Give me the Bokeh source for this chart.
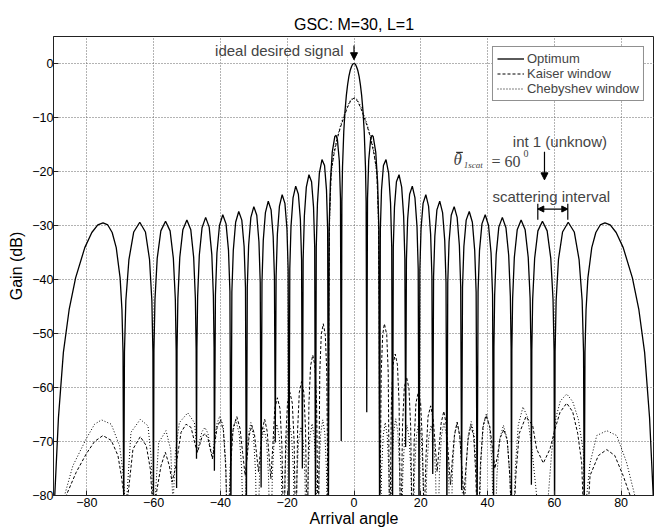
from bokeh.plotting import figure
from bokeh.models import (Range1d, Label, Arrow, NormalHead, Legend, LegendItem,
                          ColumnDataSource, FixedTicker)
from bokeh.embed import file_html
from bokeh.resources import INLINE

# ---------------- data ----------------
X_TICKS = [-80, -60, -40, -20, 0, 20, 40, 60, 80]
Y_TICKS = [0, -10, -20, -30, -40, -50, -60, -70, -80]

OPT_ANGLE = [
    -90.0, -88.52, -87.04, -85.32, -83.38, -80.63, -78.52, -76.73, -75.16, -73.74, -72.43, -71.21, -70.05, -69.50, -69.18, -68.96,
    -68.75, -68.33, -67.41, -65.97, -64.16, -62.46, -61.24, -60.54, -60.23, -60.07,
    -59.92, -59.61, -58.94, -57.85, -56.44, -55.08, -54.10, -53.51, -53.26, -53.13,
    -53.00, -52.75, -52.18, -51.26, -50.05, -48.88, -48.02, -47.51, -47.28, -47.17,
    -47.05, -46.83, -46.33, -45.51, -44.43, -43.37, -42.58, -42.12, -41.91, -41.81,
    -41.50, -41.05, -40.29, -39.30, -38.32, -37.59, -37.16, -36.87,
    -36.58, -36.15, -35.45, -34.52, -33.60, -32.91, -32.50, -32.23,
    -31.96, -31.56, -30.89, -30.00, -29.12, -28.47, -28.08, -27.82,
    -27.56, -27.17, -26.53, -25.68, -24.83, -24.21, -23.83, -23.58,
    -23.33, -22.95, -22.33, -21.51, -20.69, -20.08, -19.72, -19.47,
    -19.23, -18.87, -18.26, -17.46, -16.66, -16.06, -15.70, -15.47,
    -15.23, -14.87, -14.28, -13.49, -12.71, -12.12, -11.77, -11.54,
    -11.30, -10.95, -10.37, -9.59, -8.82, -8.24, -7.89, -7.66,
    -7.43, -7.08, -6.51, -5.74, -5.36, -4.97, -4.40, -4.05, -3.82,
    -3.63, -3.44, -3.06, -2.68, -2.29, -1.91, -1.53, -1.15, -0.76, -0.38, 0.0,
    0.38, 0.76, 1.15, 1.53, 1.91, 2.29, 2.68, 3.06, 3.44, 3.63, 3.82,
    4.05, 4.40, 4.97, 5.36, 5.74, 6.51, 7.08, 7.43, 7.66,
    7.89, 8.24, 8.82, 9.59, 10.37, 10.95, 11.30, 11.54,
    11.77, 12.12, 12.71, 13.49, 14.28, 14.87, 15.23, 15.47,
    15.70, 16.06, 16.66, 17.46, 18.26, 18.87, 19.23, 19.47,
    19.72, 20.08, 20.69, 21.51, 22.33, 22.95, 23.33, 23.58,
    23.83, 24.21, 24.83, 25.68, 26.53, 27.17, 27.56, 27.82,
    28.08, 28.47, 29.12, 30.00, 30.89, 31.56, 31.96, 32.23,
    32.50, 32.91, 33.60, 34.52, 35.45, 36.15, 36.58, 36.87,
    37.16, 37.59, 38.32, 39.30, 40.29, 41.05, 41.50, 41.81,
    41.91, 42.12, 42.58, 43.37, 44.43, 45.51, 46.33, 46.83, 47.05, 47.17,
    47.28, 47.51, 48.02, 48.88, 50.05, 51.26, 52.18, 52.75, 53.00, 53.13,
    53.26, 53.51, 54.10, 55.08, 56.44, 57.85, 58.94, 59.61, 59.92, 60.07,
    60.23, 60.54, 61.24, 62.46, 64.16, 65.97, 67.41, 68.33, 68.75, 68.96,
    69.18, 69.50, 70.05, 71.21, 72.43, 73.74, 75.16, 76.73, 78.52, 80.63, 83.38, 85.32, 87.04, 88.52, 90.0,
]
OPT_GAIN = [
    -85, -65.6, -53.5, -45.6, -39.7, -34.1, -31.3, -29.9, -29.5, -29.9, -31.3, -34.1, -39.7, -45.6, -53.5, -85,
    -53.4, -43.9, -36.3, -31.2, -29.4, -31.2, -36.3, -43.9, -53.4, -85,
    -53.2, -43.7, -36.1, -31.0, -29.2, -31.0, -36.1, -43.7, -53.2, -78.6,
    -53.0, -43.5, -35.9, -30.8, -29.0, -30.8, -35.9, -43.5, -53.0, -73.2,
    -52.6, -43.1, -35.5, -30.4, -28.5, -30.3, -35.4, -43.0, -52.5, -75.4,
    -42.8, -35.1, -30.0, -28.0, -29.7, -34.6, -42.2, -85,
    -42.3, -34.6, -29.4, -27.4, -29.0, -33.9, -41.5, -85,
    -41.4, -33.7, -28.5, -26.5, -28.1, -33.0, -40.6, -78.5,
    -40.5, -32.7, -27.6, -25.5, -27.1, -32.0, -39.5, -70.2,
    -39.4, -31.6, -26.4, -24.3, -25.9, -30.6, -38.2, -85,
    -38.0, -30.2, -24.9, -22.7, -24.2, -28.9, -36.4, -75.0,
    -36.2, -28.3, -22.9, -20.6, -21.9, -26.6, -34.0, -85,
    -34.0, -25.9, -20.3, -17.8, -18.9, -23.4, -30.8, -85,
    -30.2, -22.1, -16.4, -13.5, -13.3, -14.1, -18.0, -25.0, -69.9,
    -25.6, -19.2, -12.6, -8.7, -5.9, -3.9, -2.4, -1.3, -0.6, -0.1, 0.0,
    -0.1, -0.6, -1.3, -2.4, -3.9, -5.9, -8.7, -12.6, -19.2, -25.6, -64.6,
    -25.0, -18.0, -14.1, -13.3, -13.5, -16.4, -22.1, -30.2, -85,
    -30.8, -23.4, -18.9, -17.8, -20.3, -25.9, -34.0, -85,
    -34.0, -26.6, -21.9, -20.6, -22.9, -28.3, -36.2, -71.0,
    -36.4, -28.9, -24.2, -22.7, -24.9, -30.2, -38.0, -85,
    -38.2, -30.6, -25.9, -24.3, -26.4, -31.6, -39.4, -76.0,
    -39.5, -32.0, -27.1, -25.5, -27.6, -32.7, -40.5, -85,
    -40.6, -33.0, -28.1, -26.5, -28.5, -33.7, -41.4, -79.0,
    -41.5, -33.9, -29.0, -27.4, -29.4, -34.6, -42.3, -85,
    -42.2, -34.6, -29.7, -28.0, -30.0, -35.1, -42.8, -85,
    -52.5, -43.0, -35.4, -30.3, -28.5, -30.4, -35.5, -43.1, -52.6, -85,
    -53.0, -43.5, -35.9, -30.8, -29.0, -30.8, -35.9, -43.5, -53.0, -78.0,
    -53.2, -43.7, -36.1, -31.0, -29.2, -31.0, -36.1, -43.7, -53.2, -85,
    -53.4, -43.9, -36.3, -31.2, -29.4, -31.2, -36.3, -43.9, -53.4, -85,
    -53.5, -45.6, -39.7, -34.1, -31.3, -29.9, -29.5, -29.9, -31.3, -34.1, -39.7, -45.6, -53.5, -65.6, -85,
]

KAISER_ANGLE = [
    -90.0, -86.2, -83.2, -80.2, -77.7, -75.2, -72.7, -70.7, -69.7, -68.9, -68.4,
    -67.7, -66.2, -64.0, -62.2, -61.0, -60.5, -60.0,
    -59.3, -57.8, -56.5, -55.3, -54.5,
    -53.3, -51.8, -50.3, -48.8, -47.6, -46.9,
    -46.2, -45.55, -44.65, -43.75, -43.1, -42.4,
    -41.7, -40.99, -40.0, -39.11, -38.4, -37.7,
    -36.94, -36.17, -35.1, -34.13, -33.37, -32.6,
    -32.0, -31.4, -30.6, -29.8, -29.2, -28.6,
    -28.05, -27.49, -26.75, -26.01, -25.46, -24.9,
    -24.32, -23.73, -22.95, -22.17, -21.59, -21.0,
    -20.46, -19.92, -19.2, -18.48, -17.94, -17.4,
    -16.89, -16.38, -15.7, -15.02, -14.51, -14.0,
    -13.5, -13.01, -12.35, -11.69, -11.2, -10.7,
    -10.25, -9.8, -9.2, -8.6, -8.15, -7.7,
    -7.55, -7.3, -6.8, -6.0, -5.0, -4.0, -3.0, -2.0, -1.0, 0.0, 1.0, 2.0, 3.0, 4.0, 5.0, 6.0, 6.8, 7.3, 7.55, 7.7,
    8.15, 8.6, 9.1, 9.8, 10.25, 10.7,
    11.2, 11.69, 12.35, 13.01, 13.5, 14.0,
    14.53, 15.05, 15.75, 16.45, 16.97, 17.5,
    18.03, 18.55, 19.25, 19.95, 20.47, 21.0,
    21.59, 22.17, 22.95, 23.73, 24.32, 24.9,
    25.5, 26.1, 26.9, 27.7, 28.3, 28.9,
    29.5, 30.1, 30.9, 31.7, 32.3, 32.9,
    33.53, 34.16, 35.0, 35.84, 36.47, 37.1,
    37.87, 38.63, 39.5, 40.67, 41.44, 42.2,
    43.0, 43.79, 44.9, 45.91, 46.7, 47.5,
    48.5, 49.5, 51.5, 53.5, 54.7, 56.7,
    58.7, 60.2, 61.7, 63.7, 65.5, 67.0, 68.2, 69.2,
    70.7, 73.2, 75.7, 78.1, 80.6, 82.7, 86.0,
]
KAISER_GAIN = [
    -95, -80, -75.7, -72.3, -70.0, -68.9, -69.8, -72.6, -76.3, -80, -95,
    -80, -71.4, -69.1, -70.8, -75.1, -80, -95,
    -80, -74.5, -72.0, -74.5, -77.5,
    -74.5, -68.3, -66.8, -67.4, -70.5, -72.0,
    -70.6, -69.2, -68.5, -69.4, -71.3, -73.2,
    -70.3, -67.4, -66.0, -68.0, -75.0, -92,
    -74.4, -67.4, -65.4, -67.6, -72.0, -76.3,
    -72.8, -68.9, -67.0, -68.7, -72.2, -75.6,
    -71.9, -67.9, -65.9, -68.1, -72.5, -76.9,
    -70.9, -63.9, -61.9, -63.9, -70.9, -90,
    -69.9, -62.9, -60.9, -62.9, -69.9, -90,
    -67.9, -60.9, -58.9, -60.9, -67.9, -90,
    -63.0, -56.0, -54.0, -56.0, -63.0, -90,
    -57.2, -50.2, -48.2, -50.2, -57.2, -90,
    -45, -28, -19.8, -16.8, -13.9, -11.7, -9.9, -8.2, -6.9, -6.4, -6.9, -8.2, -9.9, -11.7, -13.9, -16.8, -19.8, -28, -45, -90,
    -57.2, -50.2, -48.2, -50.2, -57.2, -90,
    -62.8, -55.8, -53.8, -55.8, -62.8, -90,
    -67.1, -60.1, -58.1, -60.1, -67.1, -90,
    -69.9, -62.9, -60.9, -62.9, -69.9, -85,
    -72.4, -65.4, -63.4, -65.9, -70.7, -75.6,
    -71.1, -66.6, -64.4, -67.1, -72.9, -78.0,
    -73.0, -68.7, -66.4, -69.1, -74.8, -80.0,
    -74.8, -69.6, -67.0, -69.0, -76.0, -90,
    -74.2, -67.2, -65.2, -67.2, -71.1, -75.0,
    -72.6, -69.3, -67.8, -69.8, -76.8, -90,
    -76.0, -68.5, -65.4, -67.0, -71.4, -74.0,
    -71.4, -67.7, -64.6, -62.9, -64.5, -68.5, -74.0, -92,
    -76.3, -72.6, -71.5, -72.6, -76.3, -80.0, -92,
]

CHEB_ANGLE = [
    -90.0, -86.7, -84.2, -80.2, -77.7, -75.6, -72.7, -70.2, -69.2, -68.7, -68.4,
    -68.0, -66.8, -64.0, -61.7, -60.8, -60.3, -59.9,
    -59.5, -58.5, -56.3, -54.9, -54.2,
    -53.5, -52.3, -49.8, -47.8, -46.9,
    -46.2, -45.55, -44.65, -43.75, -43.1, -42.4,
    -41.7, -41.0, -40.2, -39.2, -38.4, -37.9,
    -37.15, -36.4, -35.4, -34.4, -33.65, -32.9,
    -32.3, -31.7, -30.9, -30.1, -29.5, -28.9,
    -28.32, -27.73, -26.95, -26.17, -25.59, -25.0,
    -24.43, -23.86, -23.1, -22.34, -21.77, -21.2,
    -20.66, -20.12, -19.4, -18.68, -18.14, -17.6,
    -17.09, -16.58, -15.9, -15.22, -14.71, -14.2,
    -13.7, -13.21, -12.55, -11.89, -11.4, -10.9,
    -10.43, -9.97, -9.35, -8.73, -8.27, -7.8,
    -7.6, -7.35, -6.9, -6.0, -5.0, -4.0, -3.0, -2.0, -1.0, 0.0, 1.0, 2.0, 3.0, 4.0, 5.0, 6.0, 6.9, 7.35, 7.6, 7.8,
    8.27, 8.73, 9.35, 9.97, 10.43, 10.9,
    11.38, 11.86, 12.5, 13.14, 13.62, 14.1,
    14.63, 15.15, 15.85, 16.55, 17.07, 17.6,
    18.14, 18.68, 19.4, 20.12, 20.66, 21.2,
    21.77, 22.34, 23.1, 23.86, 24.43, 25.0,
    25.59, 26.17, 26.95, 27.73, 28.32, 28.9,
    29.5, 30.1, 30.9, 31.7, 32.3, 32.9,
    33.56, 34.22, 35.1, 35.98, 36.64, 37.3,
    38.0, 38.71, 39.65, 40.59, 41.3, 42.0,
    42.83, 43.65, 44.75, 45.85, 46.68, 47.5,
    48.3, 49.2, 50.6, 52.0, 53.2, 54.7, 56.4,
    58.2, 59.2, 60.5, 61.8, 63.7, 65.5, 67.2, 68.7, 69.2,
    69.7, 70.7, 72.7, 75.7, 78.7, 81.6, 84.1, 88.0,
]
CHEB_GAIN = [
    -95, -80, -74.5, -69.5, -66.8, -66.0, -66.8, -70.8, -75.7, -80, -95,
    -80, -68.3, -65.9, -67.1, -72.6, -80, -95,
    -80, -70.2, -68.0, -71.5, -82,
    -72.0, -66.5, -64.7, -66.5, -72.0,
    -69.8, -68.2, -67.4, -68.5, -70.8, -73.2,
    -69.4, -66.6, -65.3, -67.0, -74.0, -92,
    -75.0, -68.5, -66.0, -68.5, -75.0, -92,
    -75.5, -69.0, -66.5, -69.0, -75.5, -92,
    -76.6, -70.1, -67.6, -70.1, -76.6, -92,
    -75.8, -69.3, -66.8, -69.3, -75.8, -92,
    -75.5, -69.0, -66.5, -69.0, -75.5, -92,
    -76.3, -69.8, -67.3, -69.8, -76.3, -92,
    -75.7, -69.2, -66.7, -69.2, -75.7, -92,
    -75.0, -68.5, -66.0, -68.5, -75.0, -92,
    -45, -30, -20.8, -16.4, -13.6, -11.4, -9.6, -7.9, -6.7, -6.3, -6.7, -7.9, -9.6, -11.4, -13.6, -16.4, -20.8, -30, -45, -92,
    -75.5, -69.0, -66.5, -69.0, -75.5, -92,
    -74.8, -68.3, -65.8, -68.3, -74.8, -92,
    -76.0, -69.5, -67.0, -69.5, -76.0, -92,
    -75.5, -69.0, -66.5, -69.0, -75.5, -92,
    -76.0, -69.5, -67.0, -69.5, -76.0, -92,
    -75.5, -69.0, -66.5, -69.0, -75.5, -92,
    -75.5, -69.0, -66.5, -69.0, -75.5, -92,
    -75.3, -68.8, -66.3, -68.8, -75.3, -92,
    -73.8, -67.3, -64.8, -67.3, -73.8, -92,
    -76.0, -69.5, -67.0, -69.5, -76.0, -92,
    -75.0, -67.0, -63.6, -65.5, -70.9, -80.0, -100,
    -80.0, -72.0, -65.5, -62.5, -61.2, -62.6, -65.9, -72.0, -92,
    -80.0, -74.0, -68.9, -68.0, -68.9, -73.8, -80.0, -95,
]

SERIES_NAMES = ["Optimum", "Kaiser window", "Chebyshev window"]


def src(a, g):
    n = min(len(a), len(g))
    return ColumnDataSource(dict(x=a[:n], y=g[:n]))


FONT = "Liberation Sans"
SERIF = "Liberation Serif"

p = figure(width=654, height=529, x_range=Range1d(-90, 90), y_range=Range1d(-80, 5),
           output_backend="svg", toolbar_location=None,
           min_border_left=53, min_border_right=0, min_border_top=36, min_border_bottom=32)
p.background_fill_color = "white"
p.border_fill_color = "white"
p.outline_line_color = "#222222"
p.outline_line_width = 1

p.title.text = "GSC: M=30, L=1"
p.title.align = "center"
p.title.vertical_align = "middle"
p.title.text_font = FONT
p.title.text_font_size = "16px"
p.title.text_font_style = "normal"
p.title.text_color = "black"
p.title.standoff = 5

for ax in (p.xaxis[0], p.yaxis[0]):
    ax.major_tick_in = 5
    ax.major_tick_out = 0
    ax.minor_tick_line_color = None
    ax.axis_line_color = "#222222"
    ax.major_tick_line_color = "#222222"
    ax.major_label_text_font = FONT
    ax.major_label_text_font_size = "12.5px"
    ax.major_label_text_color = "black"
    ax.axis_label_text_font = FONT
    ax.axis_label_text_font_size = "16px"
    ax.axis_label_text_font_style = "normal"
    ax.axis_label_text_color = "black"
p.xaxis.major_label_standoff = 2
p.xaxis.axis_label_standoff = 0
p.yaxis.major_label_standoff = 0
p.yaxis.axis_label_standoff = 4
p.xaxis.axis_label = "Arrival angle"
p.yaxis.axis_label = "Gain (dB)"
p.xaxis.ticker = FixedTicker(ticks=X_TICKS)
p.yaxis.ticker = FixedTicker(ticks=Y_TICKS)

for g in (p.xgrid[0], p.ygrid[0]):
    g.grid_line_color = "#666666"
    g.grid_line_dash = "1 2"
    g.grid_line_width = 1
p.xgrid.ticker = FixedTicker(ticks=X_TICKS)
p.ygrid.ticker = FixedTicker(ticks=Y_TICKS)

r_cheb = p.line("x", "y", source=src(CHEB_ANGLE, CHEB_GAIN), line_color="black",
                line_width=1, line_dash="1 2")
r_kai = p.line("x", "y", source=src(KAISER_ANGLE, KAISER_GAIN), line_color="black",
               line_width=1, line_dash="3 2")
r_opt = p.line("x", "y", source=src(OPT_ANGLE, OPT_GAIN), line_color="black",
               line_width=1.3)

legend = Legend(items=[LegendItem(label=SERIES_NAMES[0], renderers=[r_opt]),
                       LegendItem(label=SERIES_NAMES[1], renderers=[r_kai]),
                       LegendItem(label=SERIES_NAMES[2], renderers=[r_cheb])],
                location="top_right")
legend.margin = 10
legend.padding = 4
legend.spacing = 0
legend.label_text_font = FONT
legend.label_text_font_size = "13px"
legend.label_height = 15
legend.glyph_height = 15
legend.glyph_width = 27
legend.label_standoff = 3
legend.border_line_color = "#222222"
legend.border_line_width = 1
legend.background_fill_alpha = 1
p.add_layout(legend)

# annotations
p.add_layout(Label(x=-3.15, y=2.4, text="ideal desired signal", text_align="right",
                   text_baseline="middle", text_font=FONT, text_font_size="15px"))
p.add_layout(Arrow(end=NormalHead(size=7, fill_color="black", line_color="black"),
                   x_start=0, y_start=3.34, x_end=0, y_end=0.7, line_width=1.2))

p.add_layout(Label(x=47.56, y=-14.43, text="int 1 (unknow)", text_align="left",
                   text_baseline="middle", text_font=FONT, text_font_size="15px"))
p.add_layout(Arrow(end=NormalHead(size=7, fill_color="black", line_color="black"),
                   x_start=57.05, y_start=-16.33, x_end=57.05, y_end=-21.55, line_width=1.2))

p.add_layout(Label(x=29.8, y=-17.86, text="\u03b8", text_align="left",
                   text_baseline="middle", text_font=SERIF, text_font_size="17px",
                   text_font_style="italic"))
p.segment(x0=[30.6], y0=[-16.45], x1=[32.6], y1=[-16.45], line_color="black", line_width=1)
p.add_layout(Label(x=32.88, y=-18.84, text="1scat", text_align="left",
                   text_baseline="middle", text_font=SERIF, text_font_size="9px",
                   text_font_style="italic"))
p.add_layout(Label(x=41.18, y=-18.07, text="= 60", text_align="left",
                   text_baseline="middle", text_font=SERIF, text_font_size="16px"))
p.add_layout(Label(x=50.77, y=-16.67, text="0", text_align="left",
                   text_baseline="middle", text_font=SERIF, text_font_size="10px"))

p.add_layout(Label(x=41.48, y=-24.59, text="scattering interval", text_align="left",
                   text_baseline="middle", text_font=FONT, text_font_size="15px"))
p.add_layout(Arrow(start=NormalHead(size=6, fill_color="black", line_color="black"),
                   end=NormalHead(size=6, fill_color="black", line_color="black"),
                   x_start=55.05, y_start=-26.95, x_end=64.03, y_end=-26.95, line_width=1.2))
p.segment(x0=[55.05, 64.03], y0=[-25.98, -25.98], x1=[55.05, 64.03], y1=[-28.93, -28.93],
          line_color="black", line_width=1.2)

open("out.html", "w").write(file_html(p, INLINE))
